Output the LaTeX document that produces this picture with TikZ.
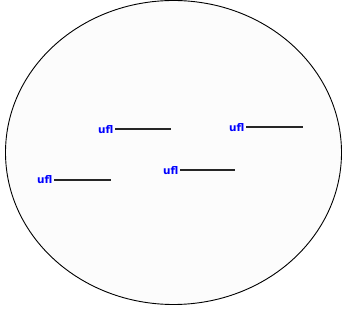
\documentclass[tikz,border=0pt]{standalone}
\usetikzlibrary{shapes.geometric}
\usepackage{fontspec}
\setmainfont{DejaVu Sans}
\begin{document}
\begin{tikzpicture}[x=1pt,y=-1pt,
  lbl/.style={text=blue, font=\fontsize{10.5}{10.5}\selectfont\bfseries, inner sep=1.5pt, anchor=east},
  bar/.style={draw=black!85, line width=1.4pt}]
\useasboundingbox (0,0) rectangle (343,320);
\fill[white] (0,0) rectangle (343,320);
\node[draw=black, line width=0.9pt, fill=black!1, ellipse, inner sep=0pt,
      minimum width=336pt, minimum height=304pt] (bound) at (173.5,152.5) {};
\node[lbl] (l1) at (115,130) {ufl};
\coordinate (e1) at (171,129);
\draw[bar] (l1.east |- e1) -- (e1);
\node[lbl] (l2) at (246,128) {ufl};
\coordinate (e2) at (303,127);
\draw[bar] (l2.east |- e2) -- (e2);
\node[lbl] (l3) at (54,180) {ufl};
\coordinate (e3) at (111,180);
\draw[bar] (l3.east |- e3) -- (e3);
\node[lbl] (l4) at (180,171) {ufl};
\coordinate (e4) at (235,170);
\draw[bar] (l4.east |- e4) -- (e4);
\end{tikzpicture}
\end{document}
